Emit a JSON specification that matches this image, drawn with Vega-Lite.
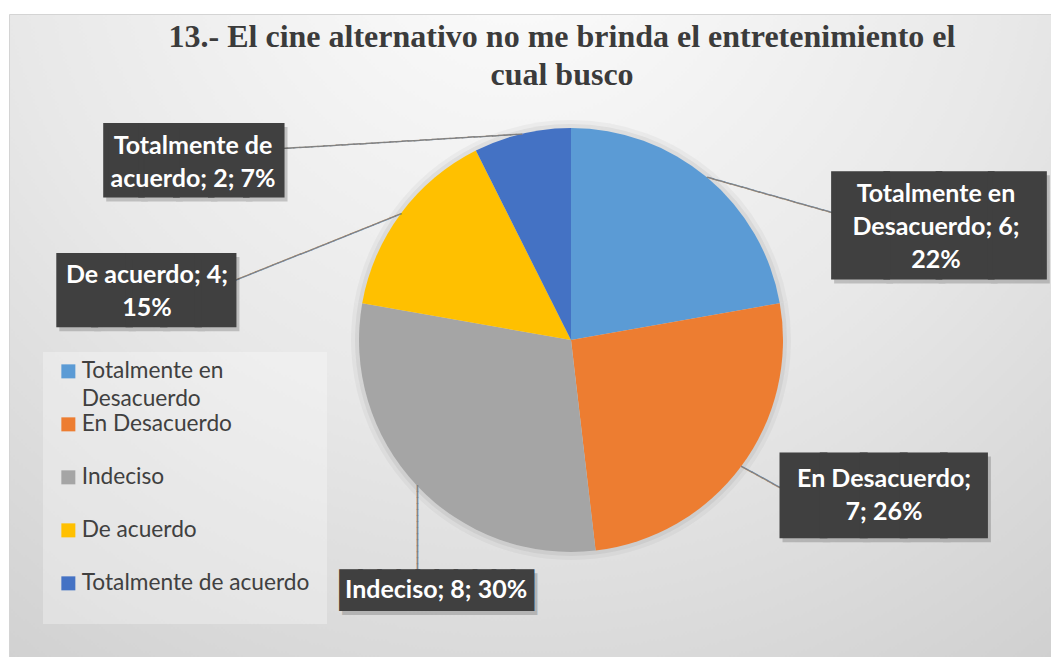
{
  "$schema": "https://vega.github.io/schema/vega-lite/v6.json",
  "width": 1124,
  "height": 652,
  "autosize": {"type": "none"},
  "padding": {"left": 9, "top": 14, "right": -82, "bottom": -9},
  "background": "#ffffff",
  "view": {
    "fill": {"gradient": "radial", "x1": 0.45, "y1": 0.12, "r1": 0, "x2": 0.45, "y2": 0.12, "r2": 1.0,
      "stops": [{"offset": 0, "color": "#fdfdfd"}, {"offset": 0.45, "color": "#e8e8e8"}, {"offset": 1, "color": "#c4c4c4"}]},
    "stroke": "#d4d4d4",
    "strokeWidth": 1
  },
  "title": {
    "text": ["13.- El cine alternativo no me brinda el entretenimiento el", "cual busco"],
    "font": "Liberation Serif",
    "fontSize": 32,
    "fontWeight": "bold",
    "color": "#3b3b3b",
    "anchor": "middle",
    "frame": "group",
    "offset": -78,
    "lineHeight": 38,
    "dx": -9
  },
  "data": {
    "values": [
      {"categoria": "Totalmente en Desacuerdo", "orden": 1, "valor": 6, "etiqueta": "Totalmente en\nDesacuerdo; 6;\n22%"},
      {"categoria": "En Desacuerdo", "orden": 2, "valor": 7, "etiqueta": "En Desacuerdo;\n7; 26%"},
      {"categoria": "Indeciso", "orden": 3, "valor": 8, "etiqueta": "Indeciso; 8; 30%"},
      {"categoria": "De acuerdo", "orden": 4, "valor": 4, "etiqueta": "De acuerdo; 4;\n15%"},
      {"categoria": "Totalmente de acuerdo", "orden": 5, "valor": 2, "etiqueta": "Totalmente de\nacuerdo; 2; 7%"}
    ]
  },
  "encoding": {
    "theta": {"field": "valor", "type": "quantitative", "stack": true},
    "order": {"field": "orden", "type": "quantitative", "sort": "ascending"},
    "detail": {"field": "categoria", "type": "nominal"}
  },
  "layer": [
    {
      "mark": {"type": "arc", "outerRadius": 220, "color": "#000000", "opacity": 0.035}
    },
    {
      "mark": {"type": "arc", "outerRadius": 216, "color": "#000000", "opacity": 0.05}
    },
    {
      "mark": {"type": "arc", "outerRadius": 212},
      "encoding": {
        "color": {
          "field": "categoria",
          "type": "nominal",
          "scale": {
            "domain": ["Totalmente en Desacuerdo", "En Desacuerdo", "Indeciso", "De acuerdo", "Totalmente de acuerdo"],
            "range": ["#5B9BD5", "#ED7D31", "#A5A5A5", "#FFC000", "#4472C4"]
          },
          "legend": {
            "title": ".",
            "titleOrient": "right",
            "titleOpacity": 0,
            "titleFontSize": 2,
            "titlePadding": 9,
            "orient": "none",
            "direction": "vertical",
            "legendX": 34,
            "legendY": 338,
            "symbolType": "square",
            "symbolSize": 196,
            "symbolStrokeWidth": 0,
            "symbolOffset": 6,
            "labelFont": "Lato",
            "labelFontSize": 22.7,
            "labelColor": "#404040",
            "labelLimit": 400,
            "labelOffset": 2,
            "labelBaseline": "middle",
            "padding": 8,
            "rowPadding": 1,
            "fillColor": "rgba(255,255,255,0.3)",
            "labelExpr": "datum.label == 'Totalmente en Desacuerdo' ? ['Totalmente en', 'Desacuerdo'] : [datum.label, '']",
            "encode": {"labels": {"update": {"lineHeight": {"signal": "datum.label == 'Totalmente de acuerdo' ? 20 : 28"}}}}
          }
        }
      }
    },
    {
      "mark": {
        "type": "text",
        "radius": 212,
        "font": "DejaVu Sans Mono",
        "fontSize": 10,
        "align": "left",
        "baseline": "middle",
        "color": "#7f7f7f",
        "stroke": "#7f7f7f",
        "strokeWidth": 0.6,
        "angle": {"expr": "[15.85, 28.8, 90, 158.2, 176.55][datum.orden - 1]"},
        "text": {"expr": "pad('', [22, 8, 14, 30, 40][datum.orden - 1], '─')"}
      }
    },
    {
      "mark": {
        "type": "text",
        "radius": 250,
        "font": "DejaVu Sans Mono",
        "align": "center",
        "baseline": "middle",
        "color": "#000000",
        "stroke": "#000000",
        "opacity": 0.18,
        "strokeJoin": "miter",
        "fontSize": {"expr": "[86.8, 66.6, 31.7, 57.4, 58][datum.orden - 1]"},
        "strokeWidth": {"expr": "[5, 6.5, 4.1, 6.2, 5.5][datum.orden - 1]"},
        "dx": {"expr": "[207.3, 112, 47.4, -224, -319.3][datum.orden - 1] + 3"},
        "dy": {"expr": "[80.5, 8.8, 79.5, 102.4, 66.5][datum.orden - 1] + 4"},
        "text": {"expr": "pad('', [4, 5, 10, 5, 5][datum.orden - 1], '█')"}
      }
    },
    {
      "mark": {
        "type": "text",
        "radius": 250,
        "font": "DejaVu Sans Mono",
        "align": "center",
        "baseline": "middle",
        "color": "#404040",
        "stroke": "#404040",
        "strokeJoin": "miter",
        "fontSize": {"expr": "[86.8, 66.6, 31.7, 57.4, 58][datum.orden - 1]"},
        "strokeWidth": {"expr": "[5, 6.5, 4.1, 6.2, 5.5][datum.orden - 1]"},
        "dx": {"expr": "[207.3, 112, 47.4, -224, -319.3][datum.orden - 1]"},
        "dy": {"expr": "[80.5, 8.8, 79.5, 102.4, 66.5][datum.orden - 1]"},
        "text": {"expr": "pad('', [4, 5, 10, 5, 5][datum.orden - 1], '█')"}
      }
    },
    {
      "mark": {
        "type": "text",
        "radius": 250,
        "font": "Lato",
        "fontWeight": "bold",
        "fontSize": 25,
        "lineBreak": "\n",
        "lineHeight": 33,
        "align": "center",
        "baseline": "middle",
        "color": "#ffffff",
        "dx": {"expr": "[204.3, 112.5, 46.9, -223.5, -320.3][datum.orden - 1]"},
        "dy": {"expr": "[45.5, -10.3, 78, 84.3, 48.8][datum.orden - 1]"}
      },
      "encoding": {
        "text": {"field": "etiqueta", "type": "nominal"}
      }
    }
  ]
}
